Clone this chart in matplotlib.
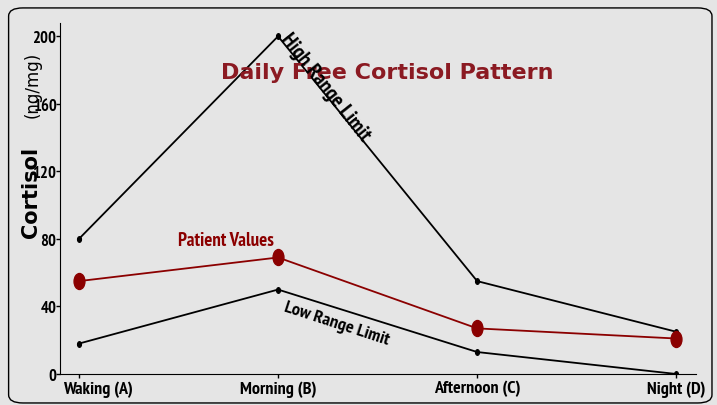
import matplotlib
matplotlib.use("Agg")
import matplotlib.pyplot as plt
import matplotlib.transforms as mtransforms
from matplotlib.patches import FancyBboxPatch
from matplotlib.path import Path
from matplotlib import font_manager

categories = ["Waking (A)", "Morning (B)", "Afternoon (C)", "Night (D)"]
high_limit = [80, 200, 55, 25]
patient = [55, 69, 27, 21]
low_limit = [18, 50, 13, 0]
yticks = [0, 40, 80, 120, 160, 200]

BG = "#e5e5e5"
RED = "#8b0000"
TITLE_RED = "#8b1a22"


def is_bold(f):
    return f.weight in ("bold", 700, "700") and f.style == "normal"


narrow = [f for f in font_manager.fontManager.ttflist
          if "narrow" in f.name.lower() and is_bold(f)]
condensed = [f for f in font_manager.fontManager.ttflist
             if ("condensed" in f.name.lower() or str(f.stretch).lower() == "condensed") and is_bold(f)]
if narrow:
    cond_fp = font_manager.FontProperties(fname=narrow[0].fname)
    SCALE = 1.0
elif condensed:
    cond_fp = font_manager.FontProperties(fname=condensed[0].fname)
    SCALE = 0.8
else:
    cond_fp = font_manager.FontProperties(family="DejaVu Sans", weight="bold")
    SCALE = 0.72


def fp(size):
    p = cond_fp.copy()
    p.set_size(size * SCALE)
    return p


ellipse = Path.unit_circle().transformed(mtransforms.Affine2D().scale(0.68, 1.0))

fig = plt.figure(figsize=(7.17, 4.06), dpi=100, facecolor=BG)
box = FancyBboxPatch((0.012, 0.005), 0.981, 0.973, boxstyle="round,pad=0,rounding_size=0.02",
                     transform=fig.transFigure, facecolor=BG, edgecolor="black", linewidth=1.0,
                     zorder=-10)
fig.patches.append(box)
ax = fig.add_axes([0.0837, 0.0764, 0.8873, 0.865])
ax.set_facecolor("none")
x = list(range(len(categories)))

ax.plot(x, high_limit, color="black", lw=1.3, marker=ellipse, ms=4)
ax.plot(x, low_limit, color="black", lw=1.3, marker=ellipse, ms=4)
ax.plot(x, patient, color=RED, lw=1.3, marker=ellipse, ms=11.5)

ax.set_xlim(-0.095, 3.1)
ax.set_ylim(0, 208)
for s in ["top", "right"]:
    ax.spines[s].set_visible(False)
ax.set_xticks(x)
ax.set_xticklabels(categories)
ax.set_yticks(yticks)
for lab in ax.get_xticklabels():
    lab.set_fontproperties(fp(13))
for lab in ax.get_yticklabels():
    lab.set_fontproperties(fp(12))
ax.tick_params(length=3, width=1)
ax.tick_params(axis="y", pad=-0.5)
ax.tick_params(axis="x", pad=1.5)
first = ax.get_xticklabels()[0]
first.set_transform(first.get_transform() + mtransforms.ScaledTranslation(19 / 100, 0, fig.dpi_scale_trans))

ax.text(1.55, 179, "Daily Free Cortisol Pattern", color=TITLE_RED, fontsize=16,
        fontweight="bold", ha="center", va="center")
ax.text(1.01, 198.5, "High Range Limit", rotation=-51.5, rotation_mode="anchor",
        fontproperties=fp(15.5), ha="left", va="baseline")
ax.text(0.74, 74, "Patient Values", color=RED, fontproperties=fp(13.5),
        ha="center", va="bottom")
ax.text(1.045, 44.5, "Low Range Limit", rotation=-18, rotation_mode="anchor",
        fontproperties=fp(13.3), ha="left", va="top")

fig.text(0.043, 0.527, "Cortisol", rotation=90, fontsize=15, fontweight="bold",
         ha="center", va="center")
fig.text(0.045, 0.79, "(ng/mg)", rotation=90, fontsize=12, ha="center", va="center")

fig.savefig("out.png", dpi=100, facecolor=BG)
